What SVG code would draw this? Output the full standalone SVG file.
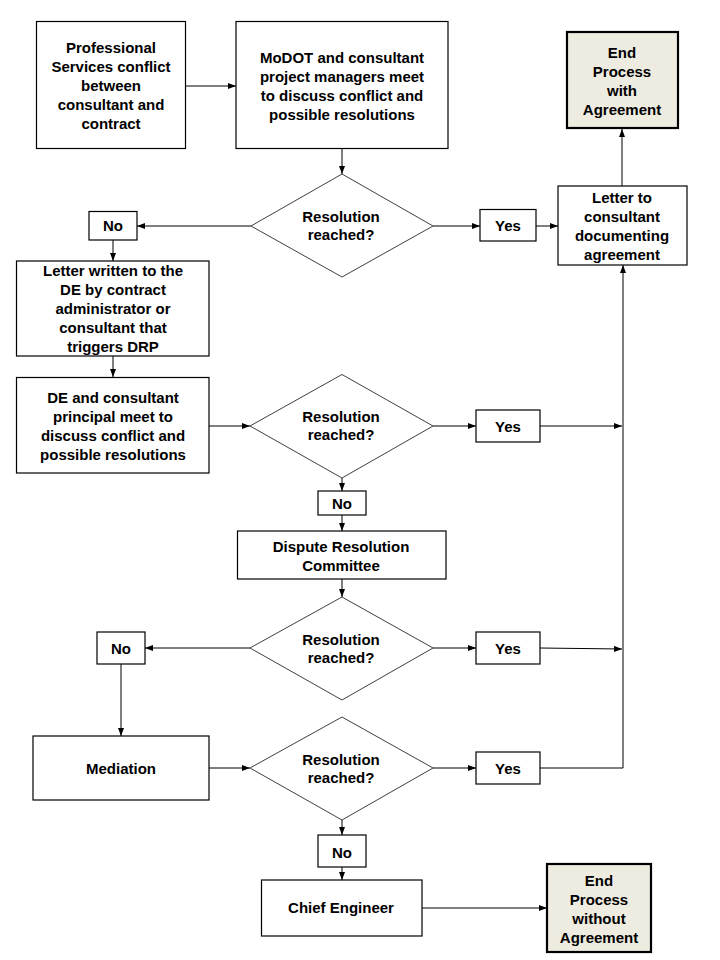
<svg xmlns="http://www.w3.org/2000/svg" width="720" height="960" viewBox="0 0 720 960">
<defs>
<marker id="ah" viewBox="0 0 8 6" refX="8" refY="3" markerWidth="8" markerHeight="6" markerUnits="userSpaceOnUse" orient="auto">
<path d="M0,0 L8,3 L0,6 Z" fill="#000"/>
</marker>
<style>
.box{fill:#fff;stroke:#000;stroke-width:1.2}
.dia{fill:#fff;stroke:#404040;stroke-width:1}
.end{fill:#EEECE1;stroke:#000;stroke-width:2.2}
.t{font-family:"Liberation Sans",Arial,sans-serif;font-size:15px;font-weight:bold;fill:#000;text-anchor:middle}
.c{fill:none;stroke:#000;stroke-width:1}
.ca{fill:none;stroke:#000;stroke-width:1;marker-end:url(#ah)}
</style>
</defs>
<rect width="720" height="960" fill="#fff"/>
<g id="connectors">
<line class="ca" x1="186" y1="86" x2="236" y2="86"/>
<line class="ca" x1="342" y1="149" x2="342" y2="174"/>
<line class="ca" x1="251" y1="226" x2="137" y2="226"/>
<line class="ca" x1="113" y1="240" x2="113" y2="261"/>
<line class="ca" x1="433" y1="226" x2="480" y2="226"/>
<line class="ca" x1="536" y1="226" x2="558" y2="226"/>
<line class="ca" x1="113" y1="356" x2="113" y2="377"/>
<line class="ca" x1="209" y1="426" x2="250" y2="426"/>
<line class="ca" x1="433" y1="426" x2="476" y2="426"/>
<line class="ca" x1="540" y1="426" x2="622" y2="426"/>
<line class="ca" x1="342" y1="478" x2="342" y2="491"/>
<line class="ca" x1="342" y1="515" x2="342" y2="531"/>
<line class="ca" x1="342" y1="579" x2="342" y2="597"/>
<line class="ca" x1="250" y1="648" x2="145" y2="648"/>
<line class="ca" x1="433" y1="648" x2="476" y2="648"/>
<line class="ca" x1="540" y1="648" x2="622" y2="649"/>
<line class="ca" x1="121" y1="664" x2="121" y2="736"/>
<line class="ca" x1="209" y1="768" x2="250" y2="768"/>
<line class="ca" x1="433" y1="768" x2="476" y2="768"/>
<polyline class="ca" points="540,768 623,768 623,265"/>
<line class="ca" x1="622" y1="186" x2="622" y2="129"/>
<line class="ca" x1="342" y1="820" x2="342" y2="835"/>
<line class="ca" x1="342" y1="867" x2="342" y2="880"/>
<line class="ca" x1="422" y1="908" x2="547" y2="908"/>
</g>
<g id="n-start">
<rect class="box" x="36.5" y="21.5" width="149" height="127"/>
<text class="t" x="111" y="53">Professional</text>
<text class="t" x="111" y="72">Services conflict</text>
<text class="t" x="111" y="91">between</text>
<text class="t" x="111" y="110">consultant and</text>
<text class="t" x="111" y="129">contract</text>
</g>
<g id="n-meet1">
<rect class="box" x="236" y="21.5" width="212" height="127"/>
<text class="t" x="342" y="63">MoDOT and consultant</text>
<text class="t" x="342" y="82">project managers meet</text>
<text class="t" x="342" y="101">to discuss conflict and</text>
<text class="t" x="342" y="120">possible resolutions</text>
</g>
<g id="n-end1">
<rect class="end" x="567" y="32" width="111" height="96"/>
<text class="t" x="622" y="58">End</text>
<text class="t" x="622" y="77">Process</text>
<text class="t" x="622" y="96">with</text>
<text class="t" x="622" y="115">Agreement</text>
</g>
<g id="n-letter">
<rect class="box" x="558" y="186" width="129" height="79"/>
<text class="t" x="622" y="203">Letter to</text>
<text class="t" x="622" y="222">consultant</text>
<text class="t" x="622" y="241">documenting</text>
<text class="t" x="622" y="260">agreement</text>
</g>
<g id="n-d1">
<polygon class="dia" points="342,174 433,226 342,277 251,226"/>
<text class="t" x="341" y="222">Resolution</text>
<text class="t" x="341" y="240">reached?</text>
</g>
<g id="n-no1">
<rect class="box" x="89" y="211.5" width="48" height="28.5"/>
<text class="t" x="113" y="231">No</text>
</g>
<g id="n-yes1">
<rect class="box" x="480" y="209.5" width="56" height="31.5"/>
<text class="t" x="508" y="231">Yes</text>
</g>
<g id="n-letterde">
<rect class="box" x="16.5" y="261" width="192.5" height="95"/>
<text class="t" x="113" y="276">Letter written to the</text>
<text class="t" x="113" y="295">DE by contract</text>
<text class="t" x="113" y="314">administrator or</text>
<text class="t" x="113" y="333">consultant that</text>
<text class="t" x="113" y="352">triggers DRP</text>
</g>
<g id="n-meet2">
<rect class="box" x="16.5" y="377.5" width="192.5" height="95.5"/>
<text class="t" x="113" y="403">DE and consultant</text>
<text class="t" x="113" y="422">principal meet to</text>
<text class="t" x="113" y="441">discuss conflict and</text>
<text class="t" x="113" y="460">possible resolutions</text>
</g>
<g id="n-d2">
<polygon class="dia" points="342,374.5 433,426 342,478 250,426"/>
<text class="t" x="341" y="422">Resolution</text>
<text class="t" x="341" y="440">reached?</text>
</g>
<g id="n-yes2">
<rect class="box" x="476" y="410" width="64" height="32"/>
<text class="t" x="508" y="432">Yes</text>
</g>
<g id="n-no2">
<rect class="box" x="318" y="491" width="48" height="24"/>
<text class="t" x="342" y="509">No</text>
</g>
<g id="n-drc">
<rect class="box" x="237.5" y="531" width="208.5" height="48"/>
<text class="t" x="341" y="552">Dispute Resolution</text>
<text class="t" x="341" y="571">Committee</text>
</g>
<g id="n-d3">
<polygon class="dia" points="342,597 433,648 342,700 250,648"/>
<text class="t" x="341" y="645">Resolution</text>
<text class="t" x="341" y="663">reached?</text>
</g>
<g id="n-no3">
<rect class="box" x="97" y="632" width="48" height="32"/>
<text class="t" x="121" y="654">No</text>
</g>
<g id="n-yes3">
<rect class="box" x="476" y="632" width="64" height="32"/>
<text class="t" x="508" y="654">Yes</text>
</g>
<g id="n-mediation">
<rect class="box" x="33" y="736" width="176" height="64"/>
<text class="t" x="121" y="774">Mediation</text>
</g>
<g id="n-d4">
<polygon class="dia" points="342,717 433,768 342,820 250,768"/>
<text class="t" x="341" y="765">Resolution</text>
<text class="t" x="341" y="783">reached?</text>
</g>
<g id="n-yes4">
<rect class="box" x="476" y="752" width="64" height="32"/>
<text class="t" x="508" y="774">Yes</text>
</g>
<g id="n-no4">
<rect class="box" x="318" y="835" width="48" height="32"/>
<text class="t" x="342" y="858">No</text>
</g>
<g id="n-chief">
<rect class="box" x="261.5" y="880" width="160.5" height="56"/>
<text class="t" x="341" y="913">Chief Engineer</text>
</g>
<g id="n-end2">
<rect class="end" x="547" y="864" width="104" height="88"/>
<text class="t" x="599" y="886">End</text>
<text class="t" x="599" y="905">Process</text>
<text class="t" x="599" y="924">without</text>
<text class="t" x="599" y="943">Agreement</text>
</g>
</svg>
